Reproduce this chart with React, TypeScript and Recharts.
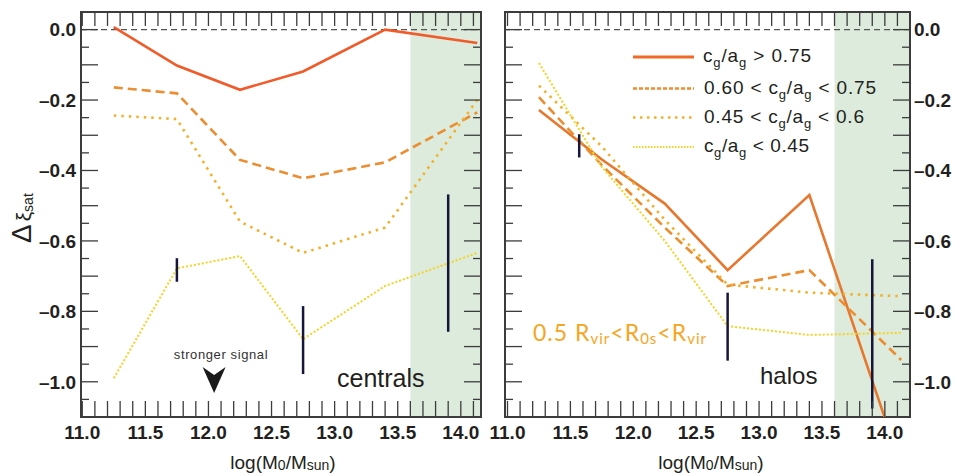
import React from "react";
import {
  LineChart,
  Line,
  XAxis,
  YAxis,
  ReferenceArea,
  ReferenceLine,
  ReferenceDot,
} from "recharts";

// halo mass bins, log(M0/Msun)
const massBins = [11.25, 11.75, 12.25, 12.75, 13.4, 14.13];

// centrals panel
const centralsHigh = [0.007, -0.102, -0.171, -0.119, 0.0, -0.038];
const centralsMidHigh = [-0.164, -0.181, -0.37, -0.422, -0.377, -0.235];
const centralsMidLow = [-0.244, -0.254, -0.545, -0.634, -0.562, -0.2];
const centralsLow = [-0.99, -0.678, -0.643, -0.879, -0.728, -0.634];

// halos panel
const halosHigh = [-0.228, -0.369, -0.494, -0.683, -0.47, -1.24];
const halosMidHigh = [-0.192, -0.385, -0.562, -0.728, -0.683, -0.938];
const halosMidLow = [-0.159, -0.332, -0.54, -0.724, -0.747, -0.757];
const halosLow = [-0.095, -0.39, -0.6, -0.842, -0.867, -0.861];

// error bars
const centralsErrX = [11.75, 12.75, 13.9];
const centralsErrLo = [-0.716, -0.978, -0.858];
const centralsErrHi = [-0.649, -0.785, -0.468];
const halosErrX = [11.57, 12.75, 13.9];
const halosErrLo = [-0.363, -0.94, -1.076];
const halosErrHi = [-0.297, -0.747, -0.652];

const xMajorTicks = [11.0, 11.5, 12.0, 12.5, 13.0, 13.5, 14.0];
const xMinorTicks = [
  11.0, 11.1, 11.2, 11.3, 11.4, 11.5, 11.6, 11.7, 11.8, 11.9, 12.0, 12.1,
  12.2, 12.3, 12.4, 12.5, 12.6, 12.7, 12.8, 12.9, 13.0, 13.1, 13.2, 13.3,
  13.4, 13.5, 13.6, 13.7, 13.8, 13.9, 14.0, 14.1,
];
const yMajorTicks = [0, -0.2, -0.4, -0.6, -0.8, -1.0];
const yLongTicks = [0, -0.1, -0.2, -0.3, -0.4, -0.5, -0.6, -0.7, -0.8, -0.9, -1.0];
const yMinorTicks = [
  0, -0.05, -0.1, -0.15, -0.2, -0.25, -0.3, -0.35, -0.4, -0.45, -0.5, -0.55,
  -0.6, -0.65, -0.7, -0.75, -0.8, -0.85, -0.9, -0.95, -1.0, -1.05,
];

const shadeStart = 13.6;
const yDomain: [number, number] = [-1.1, 0.05];

const FONT = "'Liberation Sans', Arial, Helvetica, sans-serif";
const INK = "#231f20";
const FRAME = "#3c3c3c";
const TICK = "#3c3c3c";

const colors = {
  highLeft: "#f15a29",
  highRight: "#e8772e",
  midHigh: "#ec8d30",
  midLow: "#f3b12b",
  low: "#f5d323",
  legendHigh: "#f06a25",
  err: "#16153a",
  shade: "#dcebdc",
};

const labelStyle = { fontFamily: FONT, fontSize: 19, fontWeight: 700, fill: INK };
const fmtX = (v: number) => v.toFixed(1);
const fmtY = (v: number) => (v < 0 ? "\u2013" + Math.abs(v).toFixed(1) : v.toFixed(1));
const inList = (list: number[], v: number) => list.some((t) => Math.abs(t - v) < 1e-6);

// inward ticks on bottom and top edges, labels only on major values
const XTick = (props: any) => {
  const { x, y, payload, top } = props;
  const v = payload.value;
  return (
    <g>
      <line x1={x} x2={x} y1={y} y2={y - 16} stroke={TICK} strokeWidth={1.3} />
      <line x1={x} x2={x} y1={top} y2={top + 14} stroke={TICK} strokeWidth={1.3} />
      {inList(xMajorTicks, v) && (
        <text x={x} y={y + 9} dy="0.71em" textAnchor="middle" {...labelStyle}>
          {fmtX(v)}
        </text>
      )}
    </g>
  );
};

// inward ticks on both vertical edges, labels on one side
const YTick = (props: any) => {
  const { x, y, payload, other, side } = props;
  const v = payload.value;
  const dir = side === "left" ? 1 : -1;
  const len = inList(yLongTicks, v) ? 17 : 8;
  return (
    <g>
      <line x1={x} x2={x + dir * len} y1={y} y2={y} stroke={TICK} strokeWidth={1.3} />
      <line x1={other} x2={other - dir * len} y1={y} y2={y} stroke={TICK} strokeWidth={1.3} />
      {inList(yMajorTicks, v) && (
        <text
          x={x - dir * (side === "left" ? 5 : 4)}
          y={y}
          dy="0.355em"
          textAnchor={side === "left" ? "end" : "start"}
          {...labelStyle}
        >
          {fmtY(v)}
        </text>
      )}
    </g>
  );
};

type PanelProps = {
  series: number[][];
  errX: number[];
  errLo: number[];
  errHi: number[];
  xDomain: [number, number];
  side: "left" | "right";
  width: number;
  margin: { top: number; right: number; bottom: number; left: number };
  highColor: string;
};

const Panel: React.FC<PanelProps> = ({
  series,
  errX,
  errLo,
  errHi,
  xDomain,
  side,
  width,
  margin,
  highColor,
}) => {
  const data = massBins.map((m, i) => ({
    m,
    high: series[0][i],
    midHigh: series[1][i],
    midLow: series[2][i],
    low: series[3][i],
  }));
  const yAxisWidth = side === "left" ? 60 : 46;
  const plotLeft = margin.left + (side === "left" ? yAxisWidth : 0);
  const plotRight = width - margin.right - (side === "right" ? yAxisWidth : 0);

  return (
    <LineChart width={width} height={473} data={data} margin={margin}>
      <ReferenceArea
        x1={shadeStart}
        x2={xDomain[1]}
        y1={yDomain[0]}
        y2={yDomain[1]}
        fill={colors.shade}
        fillOpacity={1}
        stroke="none"
      />
      <XAxis
        dataKey="m"
        type="number"
        domain={xDomain}
        allowDataOverflow
        ticks={xMinorTicks}
        interval={0}
        tick={(p: any) => <XTick {...p} top={margin.top} />}
        tickLine={false}
        tickSize={0}
        tickMargin={0}
        axisLine={false}
        height={30}
      />
      <YAxis
        orientation={side}
        type="number"
        domain={yDomain}
        allowDataOverflow
        ticks={yMinorTicks}
        interval={0}
        tick={(p: any) => (
          <YTick {...p} side={side} other={side === "left" ? plotRight : plotLeft} />
        )}
        tickLine={false}
        tickSize={0}
        tickMargin={0}
        axisLine={false}
        width={yAxisWidth}
      />
      <ReferenceLine y={0} stroke="#555" strokeWidth={1.2} strokeDasharray="6 4" />
      <Line
        dataKey="high"
        stroke={highColor}
        strokeWidth={2.6}
        dot={false}
        isAnimationActive={false}
      />
      <Line
        dataKey="midHigh"
        stroke={colors.midHigh}
        strokeWidth={2.6}
        strokeDasharray="9 5"
        dot={false}
        isAnimationActive={false}
      />
      <Line
        dataKey="midLow"
        stroke={colors.midLow}
        strokeWidth={2.6}
        strokeDasharray="2.5 5"
        dot={false}
        isAnimationActive={false}
      />
      <Line
        dataKey="low"
        stroke={colors.low}
        strokeWidth={2}
        strokeDasharray="2 2"
        dot={false}
        isAnimationActive={false}
      />
      {errX.map((x, i) => (
        <ReferenceLine
          key={"e" + i}
          segment={[
            { x, y: errLo[i] },
            { x, y: errHi[i] },
          ]}
          stroke={colors.err}
          strokeWidth={2.5}
        />
      ))}
      {side === "left" && (
        <ReferenceDot
          x={12.045}
          y={-0.995}
          r={0}
          shape={(p: any) => (
            <path
              d={`M${p.cx - 11.5},${p.cy - 13} L${p.cx},${p.cy - 5} L${p.cx + 11.5},${p.cy - 13} L${p.cx},${p.cy + 13} Z`}
              fill="#1a1a1a"
            />
          )}
        />
      )}
      {/* frame */}
      <ReferenceArea
        x1={xDomain[0]}
        x2={xDomain[1]}
        y1={yDomain[0]}
        y2={yDomain[1]}
        fill="none"
        stroke={FRAME}
        strokeWidth={2}
      />
    </LineChart>
  );
};

const legendRows = [
  { color: colors.legendHigh, dash: undefined, w: 3.2, y: 57, len: 108, parts: ["c", "_g", "/a", "_g", " > 0.75"] },
  { color: colors.midHigh, dash: "4 2", w: 2.6, y: 88.5, len: 172, parts: ["0.60 < c", "_g", "/a", "_g", " < 0.75"] },
  { color: colors.midLow, dash: "2.5 4.5", w: 2.6, y: 117.5, len: 160, parts: ["0.45 < c", "_g", "/a", "_g", " < 0.6"] },
  { color: colors.low, dash: "1.5 1.5", w: 2, y: 147, len: 105, parts: ["c", "_g", "/a", "_g", " < 0.45"] },
];

const Overlay: React.FC = () => (
  <svg
    width={956}
    height={473}
    style={{ position: "absolute", left: 0, top: 0, pointerEvents: "none" }}
  >
    {/* y label */}
    <text
      x={31}
      y={243}
      transform="rotate(-90 31 243)"
      fontFamily={FONT}
      fill={INK}
    >
      <tspan fontSize={28}>Δ</tspan>
      <tspan fontSize={21} dx={3}>ξ</tspan>
      <tspan fontSize={14} dy={2}>sat</tspan>
    </text>

    {/* x labels */}
    {[283, 711].map((cx) => (
      <text
        key={cx}
        x={cx}
        y={469}
        textAnchor="middle"
        fontFamily={FONT}
        fontSize={19}
        fill={INK}
      >
        log(M<tspan fontSize={14} dy={1}>0</tspan>
        <tspan dy={-1}>/M</tspan>
        <tspan fontSize={14} dy={1}>sun</tspan>
        <tspan dy={-1}>)</tspan>
      </text>
    ))}

    <text
      x={221}
      y={359}
      textAnchor="middle"
      fontFamily={FONT}
      fontSize={13}
      letterSpacing={0.6}
      fill="#333"
    >
      stronger signal
    </text>
    <text x={337} y={387} fontFamily={FONT} fontSize={25} fill={INK}>
      centrals
    </text>
    <text x={760} y={384} fontFamily={FONT} fontSize={24} fill={INK}>
      halos
    </text>
    <text
      x={533}
      y={340.5}
      fontFamily="Lato, 'Open Sans', sans-serif"
      fontSize={23}
      fill="#f5a623"
      textLength={173}
      lengthAdjust="spacing"
    >
      0.5 R<tspan fontSize={15} dy={3}>vir</tspan>
      <tspan dy={-3}>{"<R"}</tspan>
      <tspan fontSize={15} dy={3}>0s</tspan>
      <tspan dy={-3}>{"<R"}</tspan>
      <tspan fontSize={15} dy={3}>vir</tspan>
    </text>

    {/* legend */}
    {legendRows.map((r, i) => (
      <g key={i}>
        <line
          x1={633}
          x2={694}
          y1={r.y}
          y2={r.y}
          stroke={r.color}
          strokeWidth={r.w}
          strokeDasharray={r.dash}
        />
        <text
          x={i === 0 ? 703 : 704}
          y={r.y + 5}
          fontFamily={FONT}
          fontSize={19}
          fill={INK}
          textLength={r.len}
          lengthAdjust="spacing"
          style={{ whiteSpace: "pre" }}
        >
          {r.parts.map((p, j) =>
            p.startsWith("_") ? (
              <tspan key={j} fontSize={13} dy={5}>
                {p.slice(1)}
              </tspan>
            ) : (
              <tspan key={j} dy={j === 0 ? 0 : -5}>
                {p}
              </tspan>
            )
          )}
        </text>
      </g>
    ))}
  </svg>
);

export default function App() {
  return (
    <div
      style={{
        position: "absolute",
        left: 0,
        top: 0,
        width: 956,
        height: 473,
        background: "#fff",
        overflow: "hidden",
      }}
    >
      <div style={{ position: "absolute", left: 0, top: 0 }}>
        <Panel
          series={[centralsHigh, centralsMidHigh, centralsMidLow, centralsLow]}
          errX={centralsErrX}
          errLo={centralsErrLo}
          errHi={centralsErrHi}
          xDomain={[10.99, 14.16]}
          side="left"
          width={490}
          margin={{ top: 12, right: 9, bottom: 26, left: 21 }}
          highColor={colors.highLeft}
        />
      </div>
      <div style={{ position: "absolute", left: 480, top: 0 }}>
        <Panel
          series={[halosHigh, halosMidHigh, halosMidLow, halosLow]}
          errX={halosErrX}
          errLo={halosErrLo}
          errHi={halosErrHi}
          xDomain={[10.98, 14.2]}
          side="right"
          width={476}
          margin={{ top: 12, right: 0, bottom: 26, left: 25 }}
          highColor={colors.highRight}
        />
      </div>
      <Overlay />
    </div>
  );
}
